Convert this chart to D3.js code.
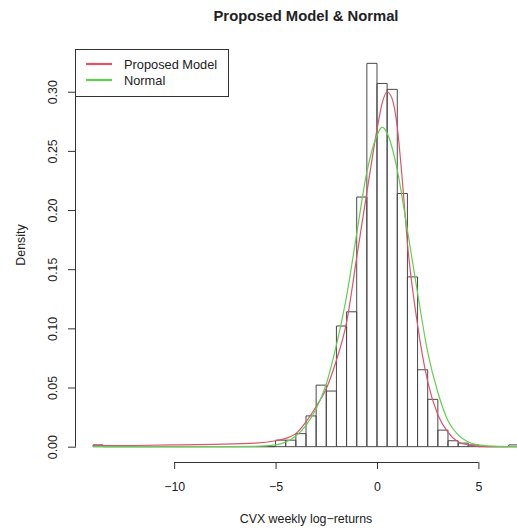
<!DOCTYPE html>
<html>
<head>
<meta charset="utf-8">
<script src="https://cdn.jsdelivr.net/npm/d3@7"></script>
<style>
  html, body { margin: 0; padding: 0; background: #fff; }
  svg text { font-family: "Liberation Sans", Arial, sans-serif; fill: #222; }
</style>
</head>
<body>
<svg id="chart" width="517" height="532"></svg>
<script>
// Histogramme CVX + densités ajustées

// bornes gauches des classes (largeur 0.5)
const binLeft = [-14, -13.5, -13, -12.5, -12, -11.5, -11, -10.5, -10, -9.5, -9, -8.5, -8, -7.5, -7, -6.5, -6, -5.5,
                 -5, -4.5, -4, -3.5, -3, -2.5, -2, -1.5, -1, -0.5, 0, 0.5, 1, 1.5, 2, 2.5, 3, 3.5, 4, 4.5, 5, 5.5, 6, 6.5];
const binWidth = 0.5;
const binDensity = [0.0015, 0, 0, 0, 0, 0, 0, 0, 0, 0, 0, 0, 0, 0, 0, 0, 0, 0,
                    0.0055, 0.0055, 0.011, 0.026, 0.052, 0.047, 0.102, 0.114, 0.211, 0.324, 0.307, 0.302, 0.214, 0.1435,
                    0.065, 0.040, 0.014, 0.005, 0.003, 0.0015, 0, 0, 0, 0.0015];

// courbe du modèle proposé
const modelX = [-14, -12, -10, -8, -6, -5, -4.5, -4, -3.5, -3, -2.5, -2, -1.5, -1, -0.5, 0, 0.25, 0.5, 0.75, 1, 1.25, 1.5, 2, 2.5, 3, 3.5, 4, 4.5, 5, 6, 7];
const modelY = [0.0008, 0.001, 0.0015, 0.002, 0.003, 0.005, 0.007, 0.011, 0.021, 0.034, 0.049, 0.073, 0.105, 0.16, 0.215, 0.268, 0.29, 0.30, 0.294, 0.27, 0.225, 0.172, 0.103, 0.055, 0.027, 0.012, 0.004, 0.0015, 0.0005, 0, 0];

// courbe normale
const normalX = [-14, -10, -8, -6, -5, -4.5, -4, -3.5, -3, -2.5, -2, -1.5, -1, -0.5, 0, 0.25, 0.5, 1, 1.5, 2, 2.5, 3, 3.5, 4, 4.5, 5, 6, 7];
const normalY = [0, 0, 0, 0.0003, 0.0015, 0.004, 0.009, 0.018, 0.032, 0.053, 0.086, 0.127, 0.18, 0.232, 0.263, 0.27, 0.265, 0.234, 0.183, 0.13, 0.08, 0.046, 0.022, 0.01, 0.004, 0.0015, 0.0002, 0];

const xTicks = [-10, -5, 0, 5];
const yTicks = [0, 0.05, 0.10, 0.15, 0.20, 0.25, 0.30];

const legendItems = [
    { label: "Proposed Model", color: "#DF536B" },
    { label: "Normal", color: "#61D04F" }
];

const svg = d3.select("#chart");
const plot = { left: 76, right: 536, top: 48, bottom: 462 };
const FS = 12.4;

// domaines à la R : étendue + 4 %
const xlo = d3.min(binLeft), xhi = d3.max(binLeft) + binWidth;
const xpad = (xhi - xlo) * 0.04;
const x = d3.scaleLinear().domain([xlo - xpad, xhi + xpad]).range([plot.left, plot.right]);
const ymax = d3.max(binDensity);
const y = d3.scaleLinear().domain([-0.04 * ymax, ymax * 1.04]).range([plot.bottom, plot.top]);

const minus = s => String(s).replace("-", "\u2212");

// barres
svg.append("g").selectAll("path").data(binLeft).join("path")
    .attr("fill", "none").attr("stroke", "#484848").attr("stroke-width", 1)
    .attr("d", (d, i) => {
        const x0 = x(d), x1 = x(d + binWidth), y0 = y(0), y1 = y(binDensity[i]);
        return `M${x0},${y0}V${y1}H${x1}V${y0}Z`;
    });

// courbes
const line = d3.line().x(d => x(d[0])).y(d => y(d[1])).curve(d3.curveMonotoneX);
svg.append("path").datum(d3.zip(modelX, modelY))
    .attr("fill", "none").attr("stroke", "#DF536B").attr("stroke-width", 1.2).attr("d", line);
svg.append("path").datum(d3.zip(normalX, normalY))
    .attr("fill", "none").attr("stroke", "#61D04F").attr("stroke-width", 1.2).attr("d", line);

// axe x
const xAxis = svg.append("g").attr("transform", `translate(0,${plot.bottom})`)
    .call(d3.axisBottom(x).tickValues(xTicks).tickSize(7).tickPadding(13).tickFormat(d => minus(d)));
xAxis.select(".domain").attr("d", `M${x(xTicks[0])},0.5H${x(xTicks[xTicks.length - 1])}`).attr("stroke", "#333");
xAxis.selectAll(".tick line").attr("stroke", "#333");
xAxis.selectAll(".tick text").attr("font-size", FS).attr("fill", "#222");

// axe y (étiquettes verticales)
const yAxis = svg.append("g").attr("transform", `translate(${plot.left},0)`)
    .call(d3.axisLeft(y).tickValues(yTicks).tickSize(8).tickFormat(d3.format(".2f")));
yAxis.select(".domain").attr("d", `M-0.5,${y(yTicks[0])}V${y(yTicks[yTicks.length - 1])}`).attr("stroke", "#333");
yAxis.selectAll(".tick line").attr("stroke", "#333");
yAxis.selectAll(".tick text")
    .attr("font-size", FS).attr("fill", "#222")
    .attr("x", 0).attr("dy", null).attr("text-anchor", "middle")
    .attr("transform", "translate(-19.5,0) rotate(-90)");

// titres
svg.append("text").attr("x", 306).attr("y", 20.5).attr("text-anchor", "middle")
    .attr("font-size", 14.8).attr("font-weight", "bold").text("Proposed Model & Normal");
svg.append("text").attr("x", 306).attr("y", 523).attr("text-anchor", "middle")
    .attr("font-size", FS).text("CVX weekly log\u2212returns");
svg.append("text").attr("transform", "translate(25,245) rotate(-90)").attr("text-anchor", "middle")
    .attr("font-size", FS).text("Density");

// légende
const lg = svg.append("g").attr("transform", `translate(${plot.left - 1},${plot.top + 1})`);
lg.append("rect").attr("x", 0.5).attr("y", 0.5).attr("width", 153).attr("height", 47)
    .attr("fill", "#fff").attr("stroke", "#333");
legendItems.forEach((it, i) => {
    const cy = 15 + i * 16;
    lg.append("line").attr("x1", 11).attr("x2", 37).attr("y1", cy).attr("y2", cy)
        .attr("stroke", it.color).attr("stroke-width", 2.2);
    lg.append("text").attr("x", 49).attr("y", cy + 4.5).attr("font-size", 12.8).text(it.label);
});
</script>
</body>
</html>
